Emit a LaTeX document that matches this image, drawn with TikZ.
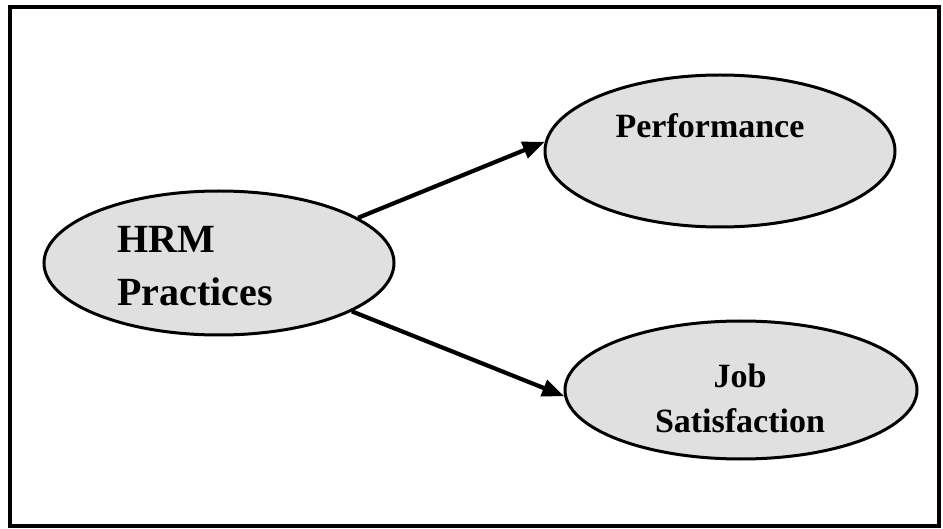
\documentclass[tikz,border=0pt]{standalone}
\usepackage{fontspec}
\setmainfont{Liberation Serif}
\usetikzlibrary{shapes.geometric, arrows.meta}
\definecolor{cFill}{RGB}{224,224,224}

\begin{document}
\begin{tikzpicture}[x=1pt, y=-1pt,
                    construct/.style={ellipse, draw=black, line width=3pt, fill=cFill,
                                      minimum width=350pt, minimum height=144pt, inner sep=0pt},
                    lbl/.style={font=\bfseries\fontsize{34}{45}\selectfont, inner sep=0pt},
                    link/.style={-{Triangle[length=22pt, width=17pt]}, line width=4.2pt}]

    % Page and frame
    \useasboundingbox (0,0) rectangle (943,529);
    \draw[line width=3.6pt] (10,7) rectangle (939,526);

    % Constructs
    \node[construct] (hrm)  at (219,263) {};
    \node[construct, minimum height=152pt] (perf) at (720,151) {};
    \node[construct, minimum width=352pt, minimum height=138pt] (job) at (741,390) {};

    % Labels (base = last line)
    \node[lbl, font=\bfseries\fontsize{40}{53}\selectfont, align=left, anchor=base west] (hrmT) at (117,306) {HRM\\Practices};
    \node[lbl, anchor=base] (perfT) at (710,138) {Performance};
    \node[lbl, align=center, anchor=base] (jobT) at (740,432) {Job\\Satisfaction};

    % Effects
    \draw[link] (hrm.18)  -- (perf.177);
    \draw[link] (hrm.-20) -- (job.182);

\end{tikzpicture}
\end{document}
